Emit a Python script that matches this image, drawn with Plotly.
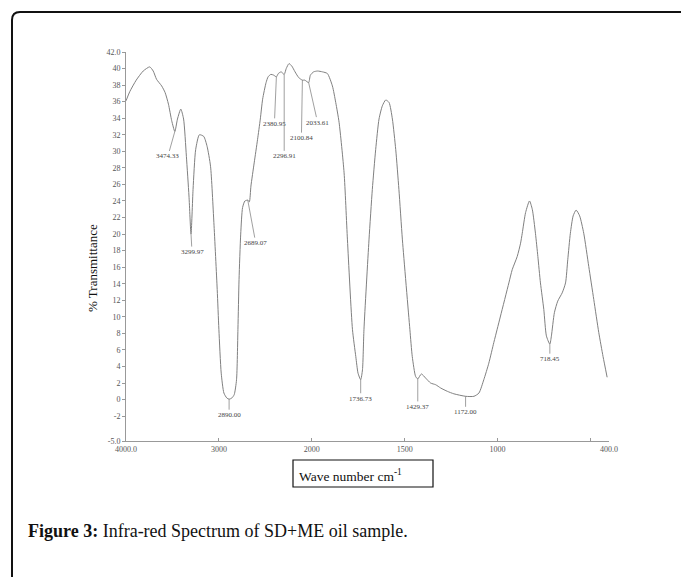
import plotly.graph_objects as go

# ---------------- data ----------------
wavenumber = [4000, 3960, 3890, 3815, 3745, 3707, 3671, 3616, 3579, 3543, 3508, 3474.33,
              3446, 3410, 3380, 3350, 3322, 3299.97, 3278, 3250, 3210, 3163, 3127, 3090,
              3054, 3018, 3000, 2975, 2946, 2915, 2890, 2860, 2835, 2810, 2795, 2783,
              2765, 2745, 2720, 2689.07, 2672, 2655, 2620, 2584, 2554, 2529, 2492, 2470,
              2440, 2410, 2380.95, 2360, 2330, 2296.91, 2275, 2245, 2215, 2180, 2140,
              2100.84, 2075, 2033.61, 2015, 1990, 1969, 1942, 1916, 1889, 1871, 1853,
              1826, 1808, 1781, 1763, 1751, 1736.73, 1727, 1719, 1692, 1674, 1656, 1638,
              1620, 1602, 1584, 1566, 1548, 1531, 1512, 1472, 1459, 1441, 1429.37, 1410,
              1387, 1360, 1333, 1306, 1270, 1235, 1172, 1127, 1100, 1074, 1047, 1020,
              1002, 984, 939, 921, 894, 876, 867, 849, 828, 813, 796, 783, 769, 751, 737,
              718.45, 710, 694, 676, 652, 634, 622, 608, 593, 577, 558, 536, 509, 482,
              455, 432, 410]
transmittance = [36.1, 37.2, 38.6, 39.7, 40.2, 39.7, 38.7, 37.9, 37.1, 35.7, 33.7, 32.4,
                 33.9, 35.1, 33.9, 29.4, 24.6, 20.0, 25.4, 30.2, 32.0, 31.8, 30.6, 28.2,
                 21.4, 13.3, 8.5, 3.2, 0.8, 0.2, 0.05, 0.2, 0.6, 2.4, 8.5, 14.5,
                 20.0, 23.2, 24.0, 24.1, 23.9, 25.8, 28.6, 31.4, 33.9, 36.3, 38.3, 39.0,
                 39.3, 39.2, 39.0, 39.4, 39.6, 39.3, 40.0, 40.6, 40.3, 39.6, 38.9,
                 38.6, 38.6, 38.3, 39.2, 39.6, 39.7, 39.6, 39.4, 37.9, 35.9, 33.5,
                 27.4, 19.3, 8.5, 5.2, 3.2, 2.4, 3.6, 8.5, 19.3, 25.4, 30.2, 33.9,
                 35.5, 36.2, 35.9, 33.9, 30.2, 25.4, 19.3, 8.5, 5.2, 2.8, 2.5, 3.1,
                 2.6, 2.0, 1.8, 1.4, 1.0, 0.7, 0.4, 0.4, 0.8, 2.4, 4.4, 6.9,
                 8.5, 10.1, 14.1, 15.7, 17.3, 18.9, 20.1, 22.6, 24.0, 23.0, 20.1, 17.3, 14.1, 10.9, 7.7,
                 6.7, 7.7, 10.5, 11.9, 12.9, 14.1, 16.9, 20.1, 22.2, 22.9, 22.2, 20.1, 16.1, 12.1,
                 8.1, 5.2, 2.7]

peak_wn = [3474.33, 3299.97, 2890.00, 2689.07, 2380.95, 2296.91, 2100.84, 2033.61,
           1736.73, 1429.37, 1172.00, 718.45]
peak_t = [32.4, 20.0, 0.05, 24.1, 39.0, 39.3, 38.6, 38.3, 2.4, 2.5, 0.4, 6.7]
peak_text = ["3474.33", "3299.97", "2890.00", "2689.07", "2380.95", "2296.91", "2100.84",
             "2033.61", "1736.73", "1429.37", "1172.00", "718.45"]

x_tick_wn = [4000, 3000, 2000, 1500, 1000, 400]
x_tick_text = ["4000.0", "3000", "2000", "1500", "1000", "400.0"]
x_minor_wn = [500]
y_tick_vals = [-5, -2, 0, 2, 4, 6, 8, 10, 12, 14, 16, 18, 20, 22, 24, 26, 28, 30, 32,
               34, 36, 38, 40, 42]
y_tick_text = ["-5.0", "-2", "0", "2", "4", "6", "8", "10", "12", "14", "16", "18", "20",
               "22", "24", "26", "28", "30", "32", "34", "36", "38", "40", "42.0"]


# the spectrometer axis changes scale at 2000 cm-1 (2x expanded below 2000)
def axis_pos(w):
    if w >= 2000:
        return (4000 - w) / 2000.0
    return 1.0 + (2000 - w) / 1000.0


# ---------------- figure ----------------
W, H = 681, 577
ML, MR, MT, MB = 126, 72, 52, 136
PW, PH = W - ML - MR, H - MT - MB


def px(x):
    return (x - ML) / PW


def py(y):
    return (H - MB - y) / PH


fig = go.Figure()
fig.add_trace(go.Scatter(
    x=[axis_pos(w) for w in wavenumber], y=transmittance, mode="lines",
    line=dict(color="#808080", width=1, shape="spline", smoothing=0.6),
    hoverinfo="skip", showlegend=False))

serif = "Liberation Serif, Times New Roman, serif"

# peak labels with stems
offsets = [(-7, 25), (1, 18), (0, 16), (8, 43), (-2, 47), (0, 82), (-1, 58), (9, 40),
           (0, 19), (0, 28), (0, 16), (0, 15)]
annotations = []
for w, t, txt, (ax, ay) in zip(peak_wn, peak_t, peak_text, offsets):
    annotations.append(dict(
        x=axis_pos(w), y=t, xref="x", yref="y", text=txt, showarrow=True,
        ax=ax, ay=ay, arrowhead=0, arrowwidth=0.7, arrowcolor="#777", standoff=0,
        font=dict(family=serif, size=7, color="#444")))

# y title
annotations.append(dict(x=px(92), y=py(268), xref="paper", yref="paper",
                        xanchor="center", yanchor="middle",
                        text="% Transmittance", textangle=-90, showarrow=False,
                        font=dict(family=serif, size=13, color="#111")))
# x title in a box
annotations.append(dict(x=px(297), y=py(475), xref="paper", yref="paper",
                        xanchor="left", yanchor="middle",
                        text="Wave number cm<sup>-1</sup>", showarrow=False,
                        font=dict(family=serif, size=13.5, color="#111")))
# caption
annotations.append(dict(x=px(26), y=py(531), xref="paper", yref="paper",
                        xanchor="left", yanchor="middle",
                        text="<b>Figure 3:</b> Infra-red Spectrum of SD+ME oil sample.",
                        showarrow=False,
                        font=dict(family=serif, size=18, color="#111")))

shapes = [
    # box around x title
    dict(type="rect", xref="paper", yref="paper", x0=px(293), x1=px(433),
         y0=py(487), y1=py(460), line=dict(color="#111", width=1.2)),
    # outer rounded frame
    dict(type="path", xref="paper", yref="paper",
         path="M %f,%f L %f,%f Q %f,%f %f,%f L %f,%f" % (
             px(12), py(590), px(12), py(20), px(12), py(12), px(20), py(12),
             px(700), py(12)),
         line=dict(color="#111", width=2)),
]

fig.update_layout(
    width=W, height=H, margin=dict(l=ML, r=MR, t=MT, b=MB),
    paper_bgcolor="white", plot_bgcolor="white",
    annotations=annotations, shapes=shapes,
    xaxis=dict(range=[0, 2.6], tickmode="array",
               tickvals=[axis_pos(w) for w in x_tick_wn],
               ticktext=x_tick_text, showgrid=False, zeroline=False, showline=True,
               linecolor="#999", linewidth=1, ticks="inside", ticklen=3,
               tickcolor="#999", tickfont=dict(family=serif, size=8, color="#555"),
               minor=dict(tickmode="array", tickvals=[axis_pos(w) for w in x_minor_wn],
                          ticks="inside", ticklen=3, tickcolor="#999", showgrid=False)),
    yaxis=dict(range=[-5, 42], tickvals=y_tick_vals, ticktext=y_tick_text,
               showgrid=False, zeroline=False, showline=True, linecolor="#999",
               linewidth=1, ticks="outside", ticklen=3, tickcolor="#999",
               tickfont=dict(family=serif, size=8, color="#555")),
)

fig.write_html("out.html")
